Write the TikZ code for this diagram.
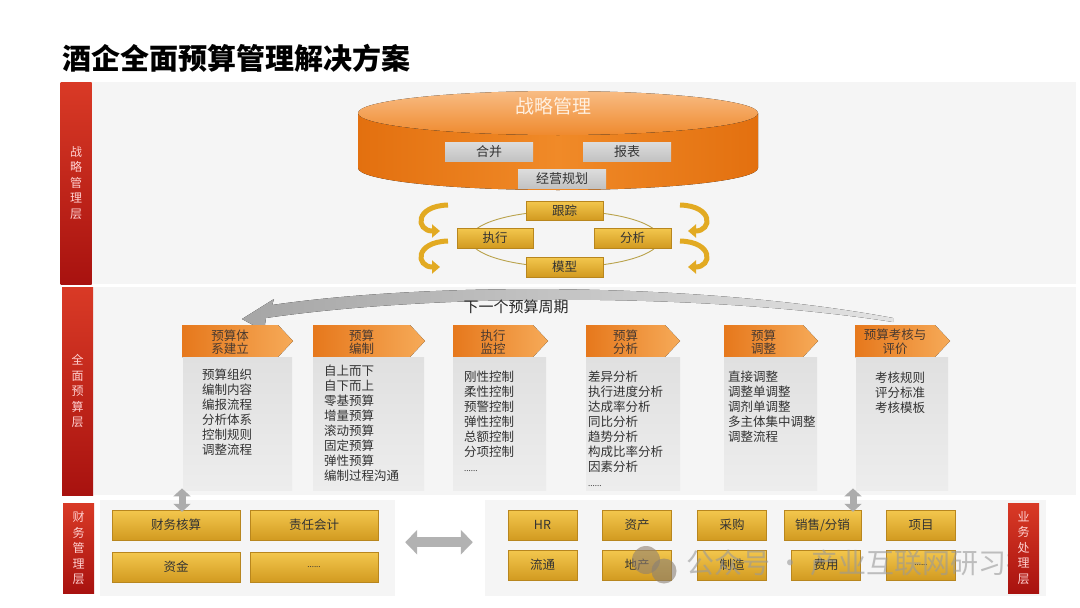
\documentclass[tikz,border=0pt]{standalone}
\usepackage{fontspec}
\setmainfont{Noto Sans CJK SC}
\usetikzlibrary{arrows.meta,calc}
\definecolor{redA}{HTML}{D93A26}
\definecolor{redB}{HTML}{A8120F}
\definecolor{panelgray}{HTML}{F5F5F5}
\definecolor{goldA}{HTML}{F3C74E}
\definecolor{goldB}{HTML}{D29A20}
\definecolor{goldedge}{HTML}{B8861E}
\definecolor{orgL}{HTML}{E6781C}
\definecolor{orgR}{HTML}{F6AA58}
\definecolor{txt}{HTML}{333333}
\definecolor{hdrt}{HTML}{4A3A30}
\definecolor{bodyA}{HTML}{E0E0E0}
\definecolor{bodyB}{HTML}{EDEDED}
\definecolor{cylSide}{HTML}{E3700F}
\definecolor{cylMid}{HTML}{F08A28}
\definecolor{cylTopA}{HTML}{F8BC84}
\definecolor{cylTopB}{HTML}{EF8A2E}
\definecolor{cylbA}{HTML}{DCDCDC}
\definecolor{cylbB}{HTML}{C2C2C2}
\definecolor{ring}{HTML}{B9A24A}
\definecolor{cyc}{HTML}{E2AA22}
\definecolor{arrgray}{HTML}{8C8C8C}
\newcommand{\mkhdr}[4]{%
  \fill[left color=orgL,right color=orgR] (#1,325) -- ({#2-15},325) -- (#2,341) -- ({#2-15},357) -- (#1,357) -- cycle;
  \node[hdrtxt] (#3) at ({(#1+#2-15)/2},342) {#4};
}
\begin{document}
\begin{tikzpicture}[x=1pt,y=-1pt,
  redbar/.style={top color=redA,bottom color=redB,draw=none},
  barlbl/.style={text=white!82!red,font=\fontsize{12}{15.5}\selectfont,align=center,inner sep=0pt},
  panel/.style={fill=panelgray,draw=none},
  goldbox/.style={draw=goldedge,line width=0.4pt,top color=goldA,bottom color=goldB,inner sep=0pt,text=txt,font=\fontsize{12.5}{14}\selectfont},
  cylbox/.style={top color=cylbA,bottom color=cylbB,draw=none,inner sep=0pt,text=txt,font=\fontsize{13}{14}\selectfont,minimum width=88pt,minimum height=19pt},
  hdrtxt/.style={text=hdrt,font=\fontsize{12.5}{13.5}\selectfont,align=center,inner sep=0pt},
  bodybox/.style={top color=bodyA,bottom color=bodyB,draw=none,inner sep=0pt,anchor=north west},
  bodytxt/.style={text=txt,font=\fontsize{12.5}{15}\selectfont,align=left,inner sep=0pt,anchor=north west},
  dblv/.style={draw=gray!65,line width=7pt,{Triangle[width=17pt,length=8pt]}-{Triangle[width=17pt,length=8pt]}},
  dblh/.style={draw=gray!60,line width=10pt,{Triangle[width=24pt,length=12pt]}-{Triangle[width=24pt,length=12pt]}},
  cycarrow/.style={draw=cyc,line width=5pt,-{Triangle[width=13pt,length=8pt]}}
]
\useasboundingbox (0,0) rectangle (1080,608);
\fill[white] (0,0) rectangle (1080,608);

% title
\node[anchor=west,inner sep=0pt,font=\fontsize{29}{31}\selectfont\bfseries] (title) at (62,58) {酒企全面预算管理解决方案};

% panels
\fill[panel] (91,82) rectangle (1076,284);
\fill[panel] (93,287) rectangle (1076,495);
\fill[panel] (100,500) rectangle (395,596);
\fill[panel] (485,500) rectangle (1046,596);

% red bars
\node[redbar,minimum width=31pt,minimum height=202pt,inner sep=0pt] (L1) at (76,183) {};
\node[barlbl] (L1t) at (L1) {战\\略\\管\\理\\层};
\node[redbar,minimum width=31pt,minimum height=208pt,inner sep=0pt] (L2) at (77.5,391) {};
\node[barlbl] (L2t) at (L2) {全\\面\\预\\算\\层};
\node[redbar,minimum width=31pt,minimum height=90pt,inner sep=0pt] (L3) at (78.5,548) {};
\node[barlbl] (L3t) at (L3) {财\\务\\管\\理\\层};

% cylinder
\fill[left color=cylSide,right color=cylSide,middle color=cylMid]
  (358,113) -- (358,168) arc[start angle=180,end angle=0,x radius=200,y radius=22]
  -- (758,113) arc[start angle=0,end angle=180,x radius=200,y radius=22] -- cycle;
\fill[top color=cylTopA,bottom color=cylTopB] (558,113) ellipse[x radius=200,y radius=22];
\node[text=white!88!orange,font=\fontsize{19}{20}\selectfont,inner sep=0pt] (sm) at (553,106) {战略管理};
\node[cylbox] (hb) at (489,151.5) {合并};
\node[cylbox] (bb) at (627,151.5) {报表};
\node[cylbox] (jy) at (562,179) {经营规划};

% cycle ring
\draw[ring,line width=0.9pt] (565,239) ellipse[x radius=95,y radius=28];
\node[goldbox,minimum width=77pt,minimum height=19pt] (gz) at (564.5,210.5) {跟踪};
\node[goldbox,minimum width=76pt,minimum height=20pt] (zx) at (495,238) {执行};
\node[goldbox,minimum width=77pt,minimum height=20pt] (fx) at (632.5,238) {分析};
\node[goldbox,minimum width=77pt,minimum height=20pt] (mx) at (564.5,267) {模型};

% cycle arrows
\draw[cycarrow] (448,205) .. controls (414,206) and (416,231) .. (440,231);
\draw[cycarrow] (448,241) .. controls (414,242) and (416,267) .. (440,267);
\draw[cycarrow] (680,205) .. controls (714,206) and (712,231) .. (688,231);
\draw[cycarrow] (680,241) .. controls (714,242) and (712,267) .. (688,267);

% big return arrow
\fill[left color=gray!70,right color=gray!22]
  (893,318) .. controls (700,282) and (430,282) .. (272,305)
  -- (274,299) -- (242,319) -- (264,331) -- (266,318)
  .. controls (430,294) and (700,292) .. (893,322) -- cycle;
\node[font=\fontsize{15}{16}\selectfont,text=black!85,inner sep=0pt] (cyc) at (516,307) {下一个预算周期};

% column headers
\mkhdr{182}{293}{h1}{预算体\\系建立}
\mkhdr{313}{425}{h2}{预算\\编制}
\mkhdr{453}{548}{h3}{执行\\监控}
\mkhdr{586}{680}{h4}{预算\\分析}
\mkhdr{724}{818}{h5}{预算\\调整}
\mkhdr{855}{950}{h6}{预算考核与\\评价}

% column bodies
\node[bodybox,minimum width=109pt,minimum height=133pt] (b1) at (183,357) {};
\node[bodybox,minimum width=111pt,minimum height=133pt] (b2) at (313,357) {};
\node[bodybox,minimum width=93pt,minimum height=133pt] (b3) at (453,357) {};
\node[bodybox,minimum width=94pt,minimum height=133pt] (b4) at (586,357) {};
\node[bodybox,minimum width=93pt,minimum height=133pt] (b5) at (724,357) {};
\node[bodybox,minimum width=92pt,minimum height=133pt] (b6) at (856,357) {};

\node[bodytxt] (t1) at (202,369) {预算组织\\编制内容\\编报流程\\分析体系\\控制规则\\调整流程};
\node[bodytxt] (t2) at (324,365) {自上而下\\自下而上\\零基预算\\增量预算\\滚动预算\\固定预算\\弹性预算\\编制过程沟通};
\node[bodytxt] (t3) at (464,371) {刚性控制\\柔性控制\\预警控制\\弹性控制\\总额控制\\分项控制\\{\fontsize{8}{15}\selectfont ......}};
\node[bodytxt] (t4) at (588,371) {差异分析\\执行进度分析\\达成率分析\\同比分析\\趋势分析\\构成比率分析\\因素分析\\{\fontsize{8}{15}\selectfont ......}};
\node[bodytxt] (t5) at (728,371) {直接调整\\调整单调整\\调剂单调整\\多主体集中调整\\调整流程};
\node[bodytxt,anchor=north,align=center] (t6) at (900,372) {考核规则\\评分标准\\考核模板};

% financial layer
\node[goldbox,minimum width=128pt,minimum height=30pt] (f1) at (176,525) {财务核算};
\node[goldbox,minimum width=128pt,minimum height=30pt] (f2) at (314,525) {责任会计};
\node[goldbox,minimum width=128pt,minimum height=30pt] (f3) at (176,567) {资金};
\node[goldbox,minimum width=128pt,minimum height=30pt] (f4) at (314,567) {{\fontsize{8}{10}\selectfont ......}};

% business layer
\node[goldbox,minimum width=69pt,minimum height=30pt] (r1) at (542.5,525) {HR};
\node[goldbox,minimum width=69pt,minimum height=30pt] (r2) at (637,525) {资产};
\node[goldbox,minimum width=69pt,minimum height=30pt] (r3) at (732,525) {采购};
\node[goldbox,minimum width=77pt,minimum height=30pt] (r4) at (822.5,525) {销售/分销};
\node[goldbox,minimum width=69pt,minimum height=30pt] (r5) at (921,525) {项目};
\node[goldbox,minimum width=69pt,minimum height=30pt] (s1) at (542.5,565) {流通};
\node[goldbox,minimum width=69pt,minimum height=30pt] (s2) at (637,565) {地产};
\node[goldbox,minimum width=69pt,minimum height=30pt] (s3) at (732,565) {制造};
\node[goldbox,minimum width=69pt,minimum height=30pt] (s4) at (826,565) {费用};
\node[goldbox,minimum width=69pt,minimum height=30pt] (s5) at (921,565) {{\fontsize{8}{10}\selectfont ......}};

% connectors
\draw[dblv] ($(b1.south west)+(-1,-2)$) -- ($(b1.south west |- f1.north)+(-1,2)$);
\draw[dblv] ($(b6.south west)+(-3,-2)$) -- ($(b6.south west |- r4.north)+(-3,2)$);
\draw[dblh] ($(f2.south east)+(27,2)$) -- ($(r1.south west)+(-35,2)$);

% watermark
\begin{scope}[opacity=0.6]
\fill[gray!75!brown] (646,560) circle[radius=14];
\fill[gray!85!brown] (664,571) circle[radius=12.5];
\node[anchor=west,inner sep=0pt,text=gray!80,font=\fontsize{28}{29}\selectfont] (wm) at (686,563) {公众号 · 产业互联网研习社};
\end{scope}

% right red bar (drawn over the watermark, as in the reference)
\node[redbar,minimum width=31pt,minimum height=90pt,inner sep=0pt] (R1) at (1023.5,548) {};
\node[barlbl] (R1t) at (R1) {业\\务\\处\\理\\层};
\end{tikzpicture}
\end{document}
